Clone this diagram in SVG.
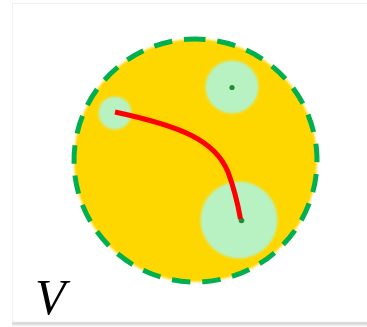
<svg xmlns="http://www.w3.org/2000/svg" width="367" height="327" viewBox="0 0 367 327">
  <defs>
    <filter id="blur" x="-20%" y="-20%" width="140%" height="140%">
      <feGaussianBlur stdDeviation="1.2"/>
    </filter>
    <filter id="soft" x="-20%" y="-20%" width="140%" height="140%">
      <feGaussianBlur stdDeviation="0.8"/>
    </filter>
    <linearGradient id="shadow" x1="0" y1="0" x2="0" y2="1">
      <stop offset="0" stop-color="#c8c8c8"/>
      <stop offset="1" stop-color="#ffffff"/>
    </linearGradient>
    <style>
      .hole { fill: #b8f2c2; filter: url(#blur); }
      .dot { fill: #1e8c3a; }
      .rim { fill: none; stroke: #00b050; stroke-width: 5; stroke-dasharray: 18.5 11.9; }
    </style>
  </defs>
  <rect width="367" height="327" fill="#ffffff"/>
  <g id="panel">
    <rect x="12" y="322" width="355" height="5" fill="url(#shadow)"/>
    <rect x="12.5" y="3.5" width="360" height="318.5" fill="#ffffff" stroke="#efefef" stroke-width="1"/>
  </g>
  <g id="domain">
    <circle cx="195.5" cy="160.5" r="121.5" fill="#ffd700" filter="url(#soft)"/>
  </g>
  <g id="hole-left">
    <circle class="hole" cx="115" cy="113" r="16.5"/>
  </g>
  <g id="hole-top">
    <circle class="hole" cx="232" cy="87" r="26.5"/>
    <circle class="dot" cx="232" cy="87.5" r="2.6"/>
  </g>
  <g id="hole-bottom">
    <circle class="hole" cx="239" cy="220" r="38.5"/>
    <circle class="dot" cx="241.5" cy="220.5" r="2.8"/>
  </g>
  <g id="connectors">
    <path d="M115,112 C180,126 215,140 228,172 C234,188 238,205 240.5,219" fill="none" stroke="#ff0000" stroke-width="5"/>
  </g>
  <g id="boundary">
    <circle class="rim" cx="195.5" cy="160.5" r="121.5" transform="rotate(-94 195.5 160.5)"/>
  </g>
  <text x="35" y="314" font-family="Liberation Serif, serif" font-style="italic" font-size="50" fill="#000000">V</text>
</svg>
